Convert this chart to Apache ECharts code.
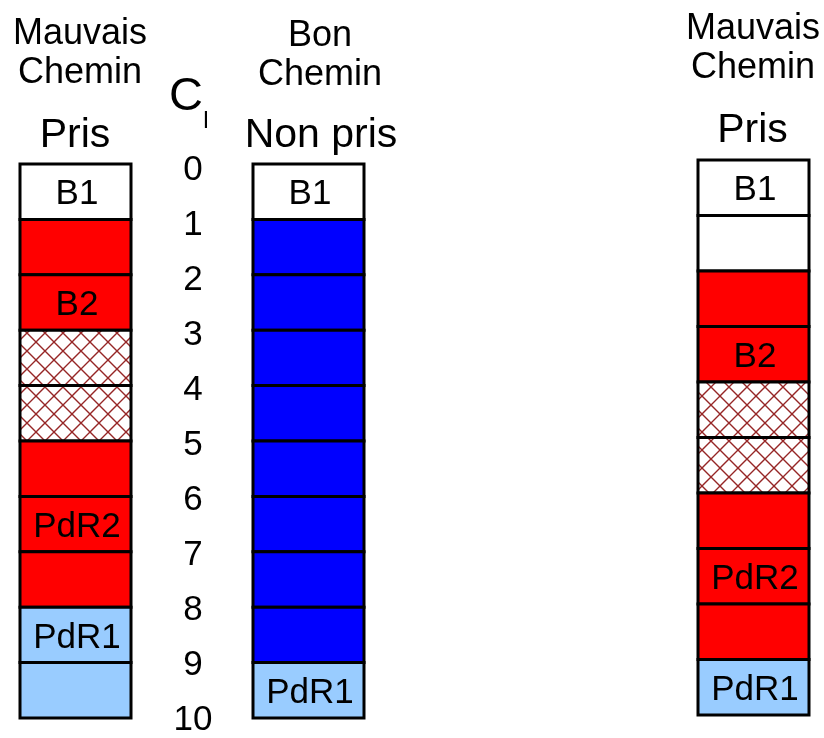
<!DOCTYPE html>
<html>
<head>
<meta charset="utf-8">
<script src="https://cdn.jsdelivr.net/npm/echarts@6/dist/echarts.min.js"></script>
<style>html,body{margin:0;padding:0;background:#fff}#c{width:824px;height:738px}</style>
</head>
<body>
<div id="c"></div>
<script>
// ---- data ----
const rowTicks = ['0','1','2','3','4','5','6','7','8','9','10'];
const col1Types  = ['white','red','red','hatch','hatch','red','red','red','lightblue','lightblue'];
const col1Labels = ['B1','','B2','','','','PdR2','','PdR1',''];
const col2Types  = ['white','blue','blue','blue','blue','blue','blue','blue','blue','lightblue'];
const col2Labels = ['B1','','','','','','','','','PdR1'];
const col3Types  = ['white','white','red','red','hatch','hatch','red','red','red','lightblue'];
const col3Labels = ['B1','','','B2','','','','PdR2','','PdR1'];
const col1Header = ['Mauvais','Chemin','Pris'];
const col2Header = ['Bon','Chemin','Non pris'];
const col3Header = ['Mauvais','Chemin','Pris'];

const FONT = '"Liberation Sans", Arial, sans-serif';

// hatch pattern
const S = 18;
const pat = document.createElement('canvas');
pat.width = S; pat.height = S;
const pc = pat.getContext('2d');
pc.fillStyle = '#fff'; pc.fillRect(0,0,S,S);
pc.strokeStyle = '#962626'; pc.lineWidth = 1.4;
pc.beginPath();
for (let k=-1;k<=1;k++){
  pc.moveTo(k*S,0); pc.lineTo(k*S+S,S);
  pc.moveTo(k*S+S,0); pc.lineTo(k*S,S);
}
pc.stroke();

const fills = {
  white: '#ffffff',
  red: '#ff0000',
  blue: '#0000ff',
  lightblue: '#99ccff',
  hatch: {image: pat, repeat: 'repeat'}
};

function toData(types, labels){
  return types.map((t,i)=>({value:[0,i], type:t, label:labels[i]}));
}

function renderItem(params, api){
  const row = api.value(1);
  const src = seriesData[params.seriesIndex][params.dataIndex];
  const p0 = api.coord([0,row]);
  const p1 = api.coord([0,row+1]);
  const w = api.size([1,0])[0];
  const x = p0[0]-w/2, y = p0[1], h = p1[1]-p0[1];
  const children = [{
    type:'rect',
    shape:{x:x, y:y, width:w, height:h},
    style:{fill: fills[src.type], stroke:'#000', lineWidth:3}
  }];
  if (src.label){
    children.push({
      type:'text',
      style:{text:src.label, x:p0[0]+1.5, y:y+h/2+3, align:'center', verticalAlign:'middle',
             fill:'#000', font:'35px '+FONT}
    });
  }
  return {type:'group', children:children};
}

const seriesData = [toData(col1Types,col1Labels), toData(col2Types,col2Labels), toData(col3Types,col3Labels)];

const grids = [
  {left:20, top:164, width:111, height:554},
  {left:253, top:164, width:111, height:554},
  {left:698, top:160, width:111, height:555},
  {left:253, top:170, width:111, height:554}   // tick-label scale for C_I
];

const xAxes = grids.map((g,i)=>({gridIndex:i, type:'category', data:['c'], show:false}));
const yAxes = grids.map((g,i)=>({
  gridIndex:i, type:'value', min:0, max:10, interval:1, inverse:true,
  show: i===3,
  axisLine:{show:false}, axisTick:{show:false}, splitLine:{show:false},
  axisLabel:{show:i===3, margin:60, align:'center', verticalAlign:'middle', color:'#000', fontSize:35, fontFamily:FONT,
    formatter:(v)=>rowTicks[Math.round(v)]}
}));

const series = seriesData.map((d,i)=>({
  type:'custom', xAxisIndex:i, yAxisIndex:i, data:d, renderItem:renderItem, silent:true, animation:false
}));

function header(lines, xs, ys, sizes){
  return lines.map((t,i)=>({
    type:'text',
    x:xs[i], y:ys[i],
    style:{text:t, x:0, y:0, align:'center', verticalAlign:'middle', fill:'#000', font:sizes[i]+'px '+FONT}
  }));
}

const graphic = [].concat(
  header(col1Header, [80,80,75], [34,73,136], [36,36,41]),
  header(col2Header, [320,320,321], [36,75,136], [36,36,41]),
  header(col3Header, [753,753,752.5], [29,68,131], [36,36,41]),
  [
    {type:'text', x:186, y:97, style:{text:'C', x:0, y:0, align:'center', verticalAlign:'middle', fill:'#000', font:'47px '+FONT}},
    {type:'text', x:206, y:122, style:{text:'I', x:0, y:0, align:'center', verticalAlign:'middle', fill:'#000', font:'23px '+FONT}}
  ]
);

const chart = echarts.init(document.getElementById('c'), null, {renderer:'canvas'});
chart.setOption({
  animation:false,
  grid:grids,
  xAxis:xAxes,
  yAxis:yAxes,
  series:series,
  graphic:graphic
});
</script>
</body>
</html>
